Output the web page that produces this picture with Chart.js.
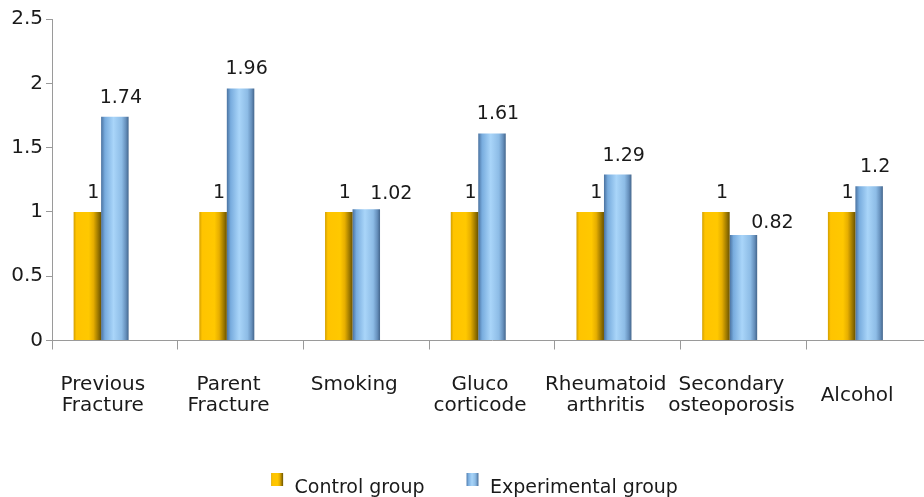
<!DOCTYPE html>
<html>
<head>
<meta charset="utf-8">
<script src="https://cdn.jsdelivr.net/npm/chart.js@4.4.1/dist/chart.umd.min.js"></script>
<style>
  html, body { margin: 0; padding: 0; width: 924px; height: 497px; overflow: hidden; background: #ffffff; }
  #wrap { position: relative; width: 940px; height: 508px; }
</style>
</head>
<body>
<div id="wrap"><canvas id="chart"></canvas></div>
<script>
// Risk factors and relative values for the two groups
const categories = [
  ["Previous", "Fracture"],
  ["Parent", "Fracture"],
  "Smoking",
  ["Gluco", "corticode"],
  ["Rheumatoid", "arthritis"],
  ["Secondary", "osteoporosis"],
  "Alcohol"
];
const controlGroup = [1, 1, 1, 1, 1, 1, 1];
const experimentalGroup = [1.74, 1.96, 1.02, 1.61, 1.29, 0.82, 1.2];
// unused third slot in each group, so the pair sits left of the category centre
const emptySlot = [null, null, null, null, null, null, null];
const yTicks = [0, 0.5, 1, 1.5, 2, 2.5];
const seriesNames = ["Control group", "Experimental group"];

// horizontal shading of the bars (cylinder-like look)
const ORANGE_STOPS = [[0, '#D29E00'], [0.1, '#FFC400'], [0.55, '#FFC800'], [0.72, '#E6AE00'], [0.88, '#A07B00'], [1, '#6A5300']];
const BLUE_STOPS = [[0, '#4A72A0'], [0.14, '#78ACDE'], [0.45, '#A9D5F9'], [0.75, '#8DBCE6'], [0.9, '#6690BC'], [1, '#44668C']];
const STOPS = [ORANGE_STOPS, BLUE_STOPS];

function hGradient(ctx, x0, x1, stops) {
  const g = ctx.createLinearGradient(x0, 0, x1, 0);
  stops.forEach(([o, c]) => g.addColorStop(o, c));
  return g;
}

// legend swatch: small shaded box, drawn in the upper part of the image
function swatch(stops) {
  const c = document.createElement('canvas');
  c.width = 20; c.height = 31;
  const g = c.getContext('2d');
  g.fillStyle = hGradient(g, 6, 18, stops);
  g.fillRect(6, 0, 12, 13);
  return c;
}
const swatches = [swatch(ORANGE_STOPS), swatch(BLUE_STOPS)];

const barShading = {
  id: 'barShading',
  beforeDatasetsDraw(chart) {
    [0, 1].forEach(d => {
      chart.getDatasetMeta(d).data.forEach(el => {
        const { x, width } = el.getProps(['x', 'width'], true);
        el.options.backgroundColor = hGradient(chart.ctx, x - width / 2, x + width / 2, STOPS[d]);
      });
    });
  }
};

const valueLabels = {
  id: 'valueLabels',
  afterDatasetsDraw(chart, args, opts) {
    const ctx = chart.ctx;
    ctx.save();
    ctx.font = opts.font;
    ctx.fillStyle = opts.color;
    ctx.textAlign = 'center';
    ctx.textBaseline = 'alphabetic';
    [0, 1].forEach(d => {
      const ds = chart.data.datasets[d];
      chart.getDatasetMeta(d).data.forEach((el, i) => {
        const v = ds.data[i];
        const n = (opts.nudge[d] && opts.nudge[d][i]) || [0, 0];
        ctx.fillText(String(v), el.x + opts.dx + n[0], el.y - opts.gap + n[1]);
      });
    });
    ctx.restore();
  }
};

new Chart(document.getElementById('chart'), {
  type: 'bar',
  data: {
    labels: categories,
    datasets: [
      { label: seriesNames[0], data: controlGroup, backgroundColor: () => '#FFC800' },
      { label: seriesNames[1], data: experimentalGroup, backgroundColor: () => '#9CC8F0' },
      { label: '', data: emptySlot, backgroundColor: 'rgba(0,0,0,0)' }
    ]
  },
  options: {
    responsive: true,
    maintainAspectRatio: false,
    animation: false,
    events: [],
    datasets: { bar: { categoryPercentage: 0.656, barPercentage: 1, borderWidth: 0 } },
    layout: { padding: { left: 11, right: 8, top: 19, bottom: 0 } },
    scales: {
      x: {
        offset: true,
        grid: { offset: true, drawOnChartArea: false, tickLength: 9, color: '#9a9a9a' },
        border: { color: '#9a9a9a' },
        ticks: {
          padding: 25,
          labelOffset: -12,
          color: '#1a1a1a',
          maxRotation: 0,
          minRotation: 0,
          autoSkip: false,
          font: c => ({ family: 'DejaVu Sans', size: 20, lineHeight: c.index === 6 ? 2.1 : 1.05 })
        },
        afterFit: s => { s.height = 102.5; }
      },
      y: {
        min: 0,
        max: 2.5,
        afterBuildTicks: s => { s.ticks = yTicks.map(v => ({ value: v })); },
        grid: { drawOnChartArea: false, tickLength: 6, color: '#9a9a9a' },
        border: { color: '#9a9a9a' },
        ticks: {
          padding: 3,
          color: '#1a1a1a',
          font: { family: 'DejaVu Sans', size: 20 },
          callback: v => String(v)
        },
        afterFit: s => { s.width = 41; }
      }
    },
    plugins: {
      tooltip: { enabled: false },
      legend: {
        position: 'bottom',
        labels: {
          usePointStyle: true,
          pointStyleWidth: 20,
          padding: 36,
          color: '#1a1a1a',
          font: { family: 'DejaVu Sans', size: 19 },
          filter: item => item.datasetIndex < 2,
          generateLabels: chart => Chart.defaults.plugins.legend.labels.generateLabels(chart)
            .map(item => Object.assign(item, { pointStyle: swatches[item.datasetIndex] || 'rect' }))
        }
      },
      valueLabels: {
        font: '19px "DejaVu Sans"',
        color: '#1a1a1a',
        dx: 6,
        gap: 14,
        nudge: { 1: { 2: [19, 4], 5: [23, 7] } }
      }
    }
  },
  plugins: [barShading, valueLabels]
});
</script>
</body>
</html>
